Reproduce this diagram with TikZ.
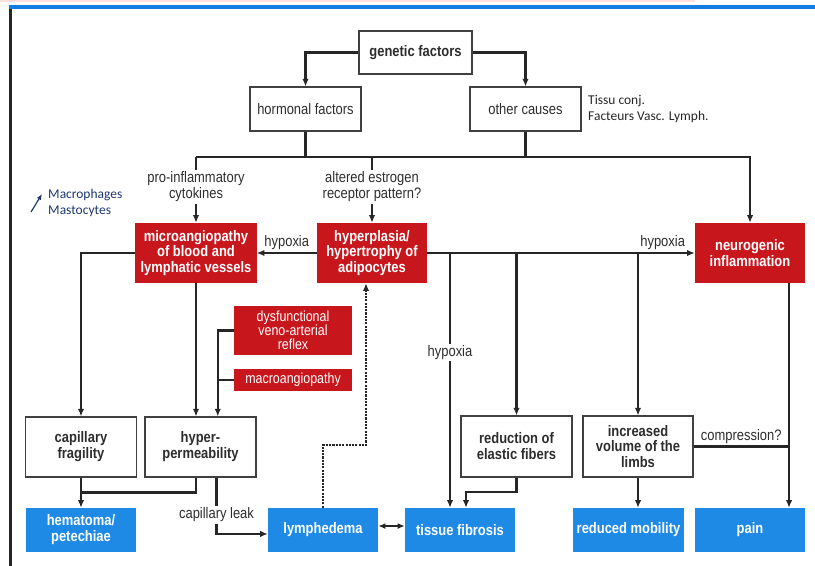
\documentclass[tikz,border=0pt]{standalone}
\usepackage{fontspec}
\setmainfont{Liberation Sans}[FakeStretch=0.85]
\newfontfamily\notefont{Carlito}
\usetikzlibrary{arrows.meta,positioning,calc}

\definecolor{boxred}{RGB}{200,22,29}
\definecolor{boxblue}{RGB}{30,138,230}
\definecolor{notenavy}{RGB}{30,55,110}
\definecolor{bandpink}{RGB}{252,224,224}
\definecolor{rulerblue}{RGB}{20,125,225}
\definecolor{inkgray}{RGB}{45,45,45}

\newcommand{\diagfont}{\fontsize{13}{13.6}\selectfont}
\newcommand{\smallred}{\fontsize{12.5}{12}\selectfont}

\tikzset{
  wbox/.style={draw=black!75, line width=0.9pt, fill=white, text=inkgray, align=center,
    inner sep=0pt, minimum width=3.33cm, minimum height=1.8cm},
  rbox/.style={fill=boxred, text=white, align=center, font=\diagfont\bfseries,
    inner sep=0pt, minimum width=3.3cm, minimum height=1.8cm},
  bbox/.style={fill=boxblue, text=white, align=center, font=\diagfont\bfseries,
    inner sep=0pt, minimum width=3.3cm, minimum height=1.32cm},
  lbl/.style={text=inkgray, align=center, inner sep=1.5pt},
  note/.style={font=\notefont\fontsize{11.5}{13.6}\selectfont, align=left, inner sep=0pt},
  conn/.style={draw=black!85, line width=1.9pt},
  arr/.style={conn, -{Latex[length=6.5pt,width=5.5pt]}},
  dblarr/.style={conn, {Latex[length=6pt,width=5pt]}-{Latex[length=6pt,width=5pt]}},
  dotarr/.style={draw=black!85, line width=1.8pt, densely dotted, -{Latex[length=6.5pt,width=5.5pt]}},
}

\begin{document}
\begin{tikzpicture}[x=0.03cm, y=-0.03cm, font=\diagfont]

  \useasboundingbox (0,0) rectangle (815,566);

  %% page frame
  \fill[bandpink] (0,0) rectangle (695,2.5);
  \fill[rulerblue] (9,5) rectangle (815,9.5);
  \fill[black!85] (9,9.5) rectangle (11.5,566);

  %% causes
  \node (genF) at (415.5,52.5) [wbox, font=\diagfont\bfseries, minimum width=3.39cm, minimum height=1.29cm] {genetic factors};
  \node (hormF) at (305.5,109) [wbox, minimum height=1.32cm] {hormonal factors};
  \node (othC) at (525.5,109) [wbox, minimum height=1.32cm] {other causes};
  \node (tissu) at (588,108.5) [note, anchor=west, text=black!85] {Tissu conj.\\Facteurs Vasc. Lymph.};

  \node (proInf) at (196,187) [lbl] {pro-inflammatory\\cytokines};
  \node (estR) at (372,187) [lbl] {altered estrogen\\receptor pattern?};

  \node (macro) at (48,203) [note, anchor=west, text=notenavy] {Macrophages\\Mastocytes};
  \coordinate (mcA) at (31,212);
  \coordinate (mcB) at (42,194);

  %% mechanisms
  \node (microA) at (196,253) [rbox, minimum width=3.63cm] {microangiopathy\\of blood and\\lymphatic vessels};
  \node (hyperP) at (372,253) [rbox] {hyperplasia/\\hypertrophy of\\adipocytes};
  \node (neuroI) at (750,253) [rbox] {neurogenic\\inflammation};

  \node (dysR) at (293,330.5) [rbox, font=\smallred, minimum width=3.54cm, minimum height=1.47cm] {dysfunctional\\veno-arterial\\reflex};
  \node (macroA) at (293,380) [rbox, font=\smallred, minimum width=3.54cm, minimum height=0.66cm] {macroangiopathy};

  %% effects
  \node (capF) at (81,447) [wbox, font=\diagfont\bfseries] {capillary\\fragility};
  \node (hypPerm) at (200.5,447) [wbox, font=\diagfont\bfseries] {hyper-\\permeability};
  \node (redEF) at (516.5,446.5) [wbox, font=\diagfont\bfseries, minimum height=1.83cm] {reduction of\\elastic fibers};
  \node (incV) at (638,446.5) [wbox, font=\diagfont\bfseries, minimum height=1.83cm, minimum width=3.3cm] {increased\\volume of the\\limbs};

  %% symptoms
  \node (hemat) at (81,530) [bbox] {hematoma/\\petechiae};
  \node (lymph) at (323,530) [bbox] {lymphedema};
  \node (tisF) at (460,530) [bbox] {tissue fibrosis};
  \node (redM) at (628.5,530) [bbox, minimum width=3.33cm] {reduced mobility};
  \node (pain) at (750,530) [bbox] {pain};

  %% helper points
  \coordinate (busL) at (196,157);
  \coordinate (busR) at (neuroI.north |- busL);
  \coordinate (hxF) at (450,253);
  \coordinate (painIn) at ($(pain.north)+(39,0)$);
  \coordinate (vaJ) at ($(dysR.west)+(-16,0)$);
  \coordinate (lkT) at ($(hypPerm.south)+(16,0)$);
  \coordinate (dtJ) at (366,445);
  \coordinate (fbJ) at ($(tisF.north)+(6,-16)$);

  %% top connectors
  \draw[arr] (genF.west) -| (hormF.north);
  \draw[arr] (genF.east) -| (othC.north);
  \draw[conn] (hormF.south) -- (hormF.south |- busL);
  \draw[conn] (othC.south) -- (othC.south |- busL);
  \draw[arr] (busL) -- (busR) -- (neuroI.north);
  \draw[conn] (busL) -- (proInf.north);
  \draw[arr] (proInf.south) -- (microA.north);
  \draw[conn] (estR.north |- busL) -- (estR.north);
  \draw[arr] (estR.south) -- (hyperP.north);

  \draw[notenavy, line width=1pt, -{Latex[length=5pt,width=4pt]}] (mcA) -- (mcB);

  %% hypoxia
  \draw[arr] (hyperP.west) -- node[lbl, above] {hypoxia} (microA.east);
  \draw[arr] (hyperP.east) -- node[lbl, above, pos=0.88] {hypoxia} (neuroI.west);
  \draw[arr] (hxF) -- node[lbl, fill=white, pos=0.39] {hypoxia} (hxF |- tisF.north);
  \draw[arr] (redEF.north |- hyperP.east) -- (redEF.north);
  \draw[arr] (incV.north |- hyperP.east) -- (incV.north);
  \draw[arr] (neuroI.south -| painIn) -- (painIn);
  \draw[conn] (incV.east) -- node[lbl, above] {compression?} (incV.east -| painIn);

  %% left branch
  \draw[arr] (microA.west) -| (capF.north);
  \draw[arr] (microA.south) -- (microA.south |- hypPerm.north);
  \draw[arr] (dysR.west) -- (vaJ) -- (vaJ |- hypPerm.north);
  \draw[conn] (macroA.west) -- (macroA.west -| vaJ);

  \draw[arr] (capF.south) -- (hemat.north);
  \draw[conn] (hypPerm.south -| microA.south) |- ($(capF.south)+(0,15)$);
  \draw[arr] (lkT) |- node[lbl, fill=white, pos=0.33] {capillary leak} ([yshift=-3.4pt]lymph.west);

  %% bottom
  \draw[dblarr] ([yshift=3.4pt]lymph.east) -- ([yshift=3.4pt]tisF.west);
  \draw[dotarr] (lymph.north) |- (dtJ) -- (dtJ |- hyperP.south);
  \draw[arr] (redEF.south) |- (fbJ) -- (fbJ |- tisF.north);
  \draw[arr] (incV.south) -- (incV.south |- redM.north);

\end{tikzpicture}
\end{document}
